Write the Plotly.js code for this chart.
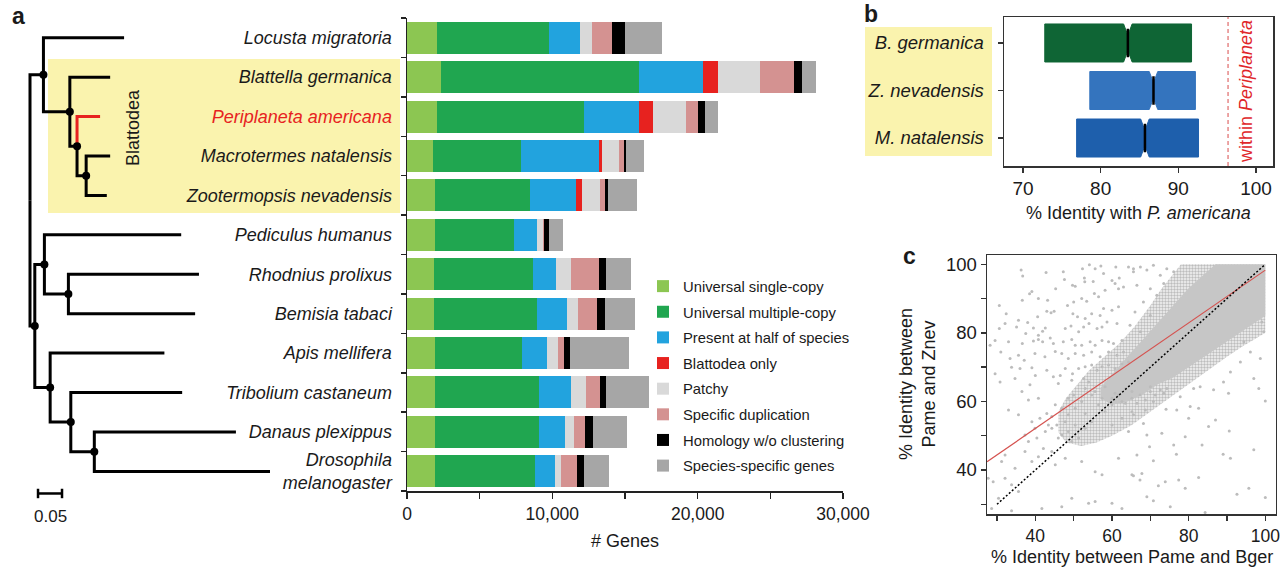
<!DOCTYPE html>
<html><head><meta charset="utf-8">
<script src="https://cdn.plot.ly/plotly-3.0.1.min.js"></script>
<style>html,body{margin:0;padding:0;background:#fff}#chart{width:1280px;height:571px}</style>
</head><body><div id="chart"></div>
<script>
const W = 1280, H = 571;
const px = v => v / W, py = v => 1 - v / H;

// ---------- Panel a: gene families per species ----------
const species = ['Locusta migratoria','Blattella germanica','Periplaneta americana','Macrotermes natalensis','Zootermopsis nevadensis','Pediculus humanus','Rhodnius prolixus','Bemisia tabaci','Apis mellifera','Tribolium castaneum','Danaus plexippus','Drosophila melanogaster'];
const focalSpecies = 'Periplaneta americana';
const categories = ['Universal single-copy','Universal multiple-copy','Present at half of species','Blattodea only','Patchy','Specific duplication','Homology w/o clustering','Species-specific genes'];
const categoryColors = ['#8cc652','#20a650','#22a3de','#e7221f','#d9d9d9','#d49291','#000000','#a6a6a6'];
const universalSingle   = [2040, 2340, 2040, 1810, 1930, 1930, 1880, 1880, 1930, 1930, 1930, 1930];
const universalMultiple = [7730,13630,10140, 6040, 6560, 5450, 6800, 7050, 5980, 7130, 7180, 6860];
const presentHalf       = [2150, 4400, 3790, 5360, 3140, 1570, 1600, 2060, 1740, 2230, 1780, 1420];
const blattodeaOnly     = [   0, 1060,  980,  210,  410,    0,    0,    0,    0,    0,    0,    0];
const patchy            = [ 830, 2840, 2230, 1170, 1220,  380,  990,  780,  740, 1030,  600,  370];
const specificDup       = [1330, 2380,  870,  320,  350,   80, 1930, 1330,  410,  980,  780, 1120];
const homologyNoClust   = [ 940,  540,  440,  160,  240,  360,  500,  550,  420,  420,  550,  460];
const speciesSpecific   = [2550,  980,  890, 1220, 1980,  990, 1720, 2040, 4080, 2910, 2320, 1760];
const seriesValues = [universalSingle, universalMultiple, presentHalf, blattodeaOnly, patchy, specificDup, homologyNoClust, speciesSpecific];
const geneTicks = [0, 10000, 20000, 30000];

// ---------- Phylogeny (branch lengths) ----------
const tipDepth  = [0.196, 0.167, 0.146, 0.167, 0.160, 0.315, 0.352, 0.344, 0.280, 0.317, 0.429, 0.500];
const nodeIds   = ['root','LB','B1','B2','B3','N2','N3','N4','N5','N6','N7'];
const nodeDepth = [0, 0.028, 0.083, 0.098, 0.117, 0.010, 0.030, 0.080, 0.042, 0.085, 0.134];
const nodeChildren = [['LB','N2'],['t0','B1'],['t1','B2'],['t2','B3'],['t3','t4'],['N3','N5'],['t5','N4'],['t6','t7'],['t8','N6'],['t9','N7'],['t10','t11']];
const scaleBarLength = 0.05;

// ---------- Panel b: identity with P. americana ----------
const boxSpecies = ['B. germanica','Z. nevadensis','M. natalensis'];
const boxQ1     = [72.8, 78.6, 76.9];
const boxMedian = [83.5, 86.8, 85.7];
const boxQ3     = [91.7, 92.2, 92.6];
const boxColors = ['#0f6535','#3474be','#1e5fac'];
const withinPeriplaneta = 96.4;
const boxTicks = [70, 80, 90, 100];

// ---------- Panel c: identity scatter ----------
const identBger = [36.3,36.7,42.8,47.3,47.6,52.3,54.1,55.6,57.1,57.8,61.0,64.3,65.6,39.1,38.5,45.3,49.7,50.4,52.9,52.8,55.1,60.0,60.8,61.9,30.6,36.6,40.8,43.2,48.4,50.0,52.1,53.4,55.4,56.5,58.2,61.7,63.0,32.4,35.6,38.0,40.6,43.0,44.1,44.9,49.8,51.0,53.0,54.7,56.9,57.8,60.0,61.7,30.6,32.1,35.1,37.5,39.5,40.8,41.9,42.6,47.8,49.3,51.3,52.6,54.0,56.1,57.4,58.7,61.3,28.2,29.5,33.0,36.6,39.5,40.8,41.9,43.9,44.7,47.3,49.5,50.4,52.1,54.3,55.6,57.4,59.1,60.4,62.6,31.0,33.4,35.6,37.1,39.9,42.5,45.2,46.9,48.6,50.4,52.6,54.7,56.9,59.1,61.3,63.0,29.5,33.8,36.0,39.1,40.0,43.0,44.7,46.5,47.8,49.7,51.3,53.0,54.7,56.1,57.4,59.1,60.8,62.6,64.3,30.8,34.7,38.6,46.0,49.5,52.6,53.9,
36.5,33.0,35.6,38.2,40.8,39.1,41.2,43.0,45.2,46.9,48.6,50.0,52.1,53.0,54.7,56.5,58.2,60.0,61.7,63.5,65.2,37.3,38.2,40.4,42.6,44.3,45.6,46.9,48.6,50.4,51.3,53.0,54.7,60.0,62.6,64.3,31.2,32.1,34.7,37.3,39.1,40.8,42.1,44.3,45.2,47.8,52.1,55.6,57.4,61.7,65.2,27.7,29.0,32.1,33.8,35.6,30.4,28.6,33.8,41.7,46.9,49.5,53.9,55.6,60.0,62.6,53.0,55.6,58.2,60.8,63.5,57.4,60.0,62.6,65.2,48.6,50.4,44.3,47.8,43.4,39.9,46.0,49.5,
65.6,67.4,69.1,70.8,72.6,74.3,66.5,70.0,73.5,76.1,68.2,71.7,66.0,70.0,64.7,67.4,93.5,96.1,98.7,99.6,97.0,90.9,94.4,89.1,99.1,
67.3,70.0,72.6,74.3,77.8,81.3,83.0,86.5,90.4,98.3,100.0,65.6,68.7,70.8,74.1,76.9,80.4,82.6,80.0,87.0,68.2,69.1,73.0,76.1,79.1,85.2,83.5,90.6,69.8,66.5,70.8,76.8,89.0,90.9,97.0,67.8,65.6,67.3,72.1,73.9,77.4,82.6,79.1,69.1,70.8,75.2,84.3,92.6,95.7,100.0,65.2,66.5,68.7,71.3,73.5,70.0];
const identZnev = [98.3,96.6,97.6,97.8,95.6,98.7,99.9,98.7,99.5,97.3,99.2,99.2,98.7,92.1,91.4,92.9,93.9,93.6,94.9,96.0,95.0,95.3,94.4,96.0,88.0,89.5,90.0,89.5,88.0,89.0,90.0,89.2,91.5,90.5,92.4,92.9,93.4,85.6,83.7,83.0,84.7,86.3,85.9,86.3,85.6,84.7,84.2,85.6,85.1,87.1,86.6,87.6,81.3,82.7,81.7,79.8,81.4,79.3,80.5,81.4,81.3,82.0,80.3,81.7,82.7,81.3,81.7,83.2,82.7,76.4,77.8,77.4,76.9,77.6,78.1,77.4,78.5,76.9,77.4,78.1,76.4,76.4,77.4,76.4,77.8,77.4,76.9,77.8,74.4,72.5,73.5,72.0,74.0,73.0,74.6,74.0,72.5,74.0,73.5,74.4,73.0,74.4,73.5,74.4,68.1,70.0,69.6,69.8,67.6,69.1,67.2,67.6,69.6,68.1,69.6,70.1,70.6,69.1,70.1,70.6,69.6,71.0,71.5,65.7,66.7,64.9,65.2,66.2,66.7,65.7,
62.9,57.5,56.1,60.4,60.9,54.1,55.1,56.5,59.0,58.0,60.9,61.9,60.0,56.5,61.9,59.0,57.0,60.9,61.9,59.5,62.9,50.2,48.3,49.3,51.2,52.2,53.1,50.2,51.2,53.1,49.3,52.2,54.1,53.1,55.1,51.2,42.5,44.4,40.5,45.4,42.5,43.9,46.3,45.4,41.5,43.4,42.5,39.5,38.6,43.4,38.6,37.6,36.6,37.6,35.7,33.7,31.8,28.8,28.1,28.8,29.3,31.8,30.3,30.8,30.3,28.8,63.8,62.9,64.3,62.4,63.8,60.9,59.0,60.0,57.0,56.1,58.0,55.6,54.1,53.1,52.2,49.3,48.3,
97.8,99.2,98.3,99.7,96.8,98.7,93.9,92.9,94.4,97.8,89.0,91.0,86.1,85.1,82.2,80.3,71.5,74.4,72.5,80.3,66.7,68.6,77.4,65.7,83.2,
61.9,62.9,63.4,63.8,61.4,63.8,64.3,63.4,62.4,63.8,60.1,56.1,57.5,60.0,57.7,57.5,58.5,58.0,55.1,54.6,53.6,50.2,50.7,47.3,49.7,52.7,47.3,51.4,46.8,44.4,42.7,44.6,44.6,43.4,45.9,39.0,38.3,37.1,35.4,36.6,37.1,37.8,34.7,32.2,31.0,29.3,27.6,32.9,34.7,32.0,60.9,59.5,60.4,61.9,62.4,64.3];
// outline of the densely populated part of the cloud (medium and high density)
const cloudX = [46,48,51,54,58,62,66,70,73,76,78,100,100,97,94,90,85,80,75,70,65,60,56,52,48,46];
const cloudY = [57,61,65,69,73,77,82,88,93,97,100,100,80,78,76,73,69,65,61,57,53,50,48,47,48,51];
const coreX  = [57,60,64,68,72,76,80,84,87,100,100,96,92,88,84,80,76,72,68,64,60,57];
const coreY  = [64,68,73,78,83,88,93,97,100,100,85,82,79,76,73,70,67,65,62,60,59,61];
const fitX = [27.4, 100];
const fitY = [42.4, 98.3];
const identityLine = [30, 100];
const scatterTicks = [40, 60, 80, 100];
const scatterMinor = [30, 50, 70, 90];

// ---------- build traces ----------
const FONT = 'Liberation Sans, Arial, Helvetica, sans-serif';
const INK = '#1a1a1a';
const rows = species.map((_, i) => i);
const traces = [];

categories.forEach((name, k) => {
  traces.push({
    type: 'bar', orientation: 'h', name: name, legendgroup: name,
    x: seriesValues[k], y: rows, xaxis: 'x', yaxis: 'y',
    marker: { color: categoryColors[k], line: { width: 0 } },
    hoverinfo: 'skip'
  });
});

// tree
function yOf(id) {
  if (id[0] === 't') return +id.slice(1);
  const ch = nodeChildren[nodeIds.indexOf(id)];
  return (yOf(ch[0]) + yOf(ch[1])) / 2;
}
function dOf(id) {
  return id[0] === 't' ? tipDepth[+id.slice(1)] : nodeDepth[nodeIds.indexOf(id)];
}
const focalTip = 't' + species.indexOf(focalSpecies);
const bX = [], bY = [], rX = [], rY = [];
nodeIds.forEach((id, k) => {
  const nd = nodeDepth[k], ny = yOf(id);
  nodeChildren[k].forEach(c => {
    const cy = yOf(c), cd = dOf(c);
    const X = c === focalTip ? rX : bX, Y = c === focalTip ? rY : bY;
    X.push(nd, nd, cd, null); Y.push(ny, cy, cy, null);
  });
});
traces.push({ type: 'scatter', mode: 'lines', x: bX, y: bY, xaxis: 'x4', yaxis: 'y4',
  line: { color: '#000', width: 3 }, showlegend: false, hoverinfo: 'skip' });
traces.push({ type: 'scatter', mode: 'lines', x: rX, y: rY, xaxis: 'x4', yaxis: 'y4',
  line: { color: '#e7221f', width: 3 }, showlegend: false, hoverinfo: 'skip' });
const innerIds = nodeIds.filter(id => id !== 'root');
traces.push({ type: 'scatter', mode: 'markers', x: innerIds.map(dOf), y: innerIds.map(yOf),
  xaxis: 'x4', yaxis: 'y4', marker: { color: '#000', size: 8 }, showlegend: false, hoverinfo: 'skip' });
// scale bar
const sb0 = 0.0167, sbRow = 11.56, cap = 0.12;
traces.push({ type: 'scatter', mode: 'lines', xaxis: 'x4', yaxis: 'y4',
  x: [sb0, sb0 + scaleBarLength, null, sb0, sb0, null, sb0 + scaleBarLength, sb0 + scaleBarLength],
  y: [sbRow, sbRow, null, sbRow - cap, sbRow + cap, null, sbRow - cap, sbRow + cap],
  line: { color: '#000', width: 2.5 }, showlegend: false, hoverinfo: 'skip' });

// panel b boxes
boxSpecies.forEach((s, i) => {
  traces.push({
    type: 'box', orientation: 'h', y: [i], q1: [boxQ1[i]], median: [boxMedian[i]], q3: [boxQ3[i]],
    lowerfence: [boxQ1[i]], upperfence: [boxQ3[i]], notched: true, notchspan: [0.55], notchwidth: 0.3,
    width: 0.8, fillcolor: boxColors[i], line: { color: boxColors[i], width: 1 }, whiskerwidth: 0,
    boxpoints: false, xaxis: 'x2', yaxis: 'y2', showlegend: false, hoverinfo: 'skip'
  });
});
const mX = [], mY = [];
boxSpecies.forEach((s, i) => { mX.push(boxMedian[i], boxMedian[i], null); mY.push(i - 0.3, i + 0.3, null); });
traces.push({ type: 'scatter', mode: 'lines', x: mX, y: mY, xaxis: 'x2', yaxis: 'y2',
  line: { color: '#000', width: 2.5 }, showlegend: false, hoverinfo: 'skip' });

// panel c
traces.push({ type: 'scatter', mode: 'lines', x: cloudX, y: cloudY, fill: 'toself', xaxis: 'x3', yaxis: 'y3',
  line: { width: 0 }, fillcolor: '#dcdcdc',
  fillpattern: { shape: '.', fgcolor: '#bdbdbd', bgcolor: '#f4f4f4', size: 3, solidity: 0.5 },
  showlegend: false, hoverinfo: 'skip' });
traces.push({ type: 'scatter', mode: 'lines', x: coreX, y: coreY, fill: 'toself', xaxis: 'x3', yaxis: 'y3',
  line: { width: 0 }, fillcolor: '#c6c6c6', showlegend: false, hoverinfo: 'skip' });
traces.push({ type: 'scatter', mode: 'markers', x: identBger, y: identZnev, xaxis: 'x3', yaxis: 'y3',
  marker: { color: '#bcbcbc', size: 3 }, showlegend: false, hoverinfo: 'skip' });
traces.push({ type: 'scatter', mode: 'lines', x: fitX, y: fitY, xaxis: 'x3', yaxis: 'y3',
  line: { color: '#d5524f', width: 1.2 }, showlegend: false, hoverinfo: 'skip' });
traces.push({ type: 'scatter', mode: 'lines', x: identityLine, y: identityLine, xaxis: 'x3', yaxis: 'y3',
  line: { color: '#000', width: 1.5, dash: '2px,2px' }, showlegend: false, hoverinfo: 'skip' });

// ---------- layout ----------
const ytext = species.map(s => {
  let t = s === 'Drosophila melanogaster' ? '<i>Drosophila</i><br><i>melanogaster</i>' : '<i>' + s + '</i>';
  if (s === focalSpecies) t = '<span style="color:#e7221f">' + t + '</span>';
  return t;
});
const boundaries = rows.map(r => r - 0.5).concat([rows.length - 0.5]);
const axLine = { showline: true, linecolor: '#222', linewidth: 1.5, showgrid: false, zeroline: false };

const ann = (text, x, y, size, extra) => Object.assign({
  text: text, x: px(x), y: py(y), xref: 'paper', yref: 'paper', showarrow: false,
  xanchor: 'center', yanchor: 'middle', font: { family: FONT, size: size, color: INK }
}, extra || {});

const layout = {
  width: W, height: H, margin: { l: 0, r: 0, t: 0, b: 0 },
  paper_bgcolor: '#fff', plot_bgcolor: 'rgba(0,0,0,0)',
  font: { family: FONT, color: INK },
  barmode: 'stack', bargap: 0.19, showlegend: true,
  legend: { x: px(643), y: py(270), xanchor: 'left', yanchor: 'top', traceorder: 'grouped',
    tracegroupgap: 3.4, font: { family: FONT, size: 14.8, color: INK }, bgcolor: 'rgba(0,0,0,0)' },
  xaxis: Object.assign({}, axLine, { domain: [px(407), px(843)], range: [0, 30000], anchor: 'y',
    tickvals: geneTicks, tickformat: ',d', ticks: 'outside', ticklen: 6, tickwidth: 1.5, tickcolor: '#222',
    minor: { dtick: 5000, tick0: 0, ticks: 'outside', ticklen: 6, tickwidth: 1.5, tickcolor: '#222', showgrid: false },
    tickfont: { size: 17.5 } }),
  yaxis: Object.assign({}, axLine, { domain: [py(491), py(18)], range: [11.5, -0.5], anchor: 'x',
    tickvals: rows, ticktext: ytext, ticks: '', ticklabelstandoff: 10,
    minor: { tickvals: boundaries, ticks: 'outside', ticklen: 5, tickwidth: 1.5, tickcolor: '#222', showgrid: false },
    tickfont: { size: 18 } }),
  xaxis4: { domain: [0, px(400)], range: [-30 / 480, 370 / 480], anchor: 'y4', visible: false },
  yaxis4: { domain: [py(540), py(18)], range: [12.74, -0.5], anchor: 'x4', visible: false },
  xaxis2: Object.assign({}, axLine, { domain: [px(1004), px(1273)], range: [67.55, 102.19], anchor: 'y2',
    mirror: true, linecolor: '#333', tickvals: boxTicks, ticks: 'outside', ticklen: 5, tickwidth: 1.5, tickcolor: '#333',
    ticklabeloverflow: 'allow', tickfont: { size: 19 } }),
  yaxis2: Object.assign({}, axLine, { domain: [py(166), py(17)], range: [2.589, -0.547], anchor: 'x2',
    mirror: true, linecolor: '#333', tickvals: [0, 1, 2], ticktext: boxSpecies.map(s => '<i>' + s + '</i>'),
    ticks: 'outside', ticklen: 5, tickwidth: 1.5, tickcolor: '#333', ticklabelstandoff: 10, tickfont: { size: 18.5 } }),
  xaxis3: Object.assign({}, axLine, { domain: [px(987), px(1275.7)], range: [27.39, 102.71], anchor: 'y3',
    mirror: true, linecolor: '#333', tickvals: scatterTicks, ticks: 'outside', ticklen: 5, tickwidth: 1.5, tickcolor: '#333',
    minor: { tickvals: scatterMinor, ticks: 'outside', ticklen: 5, tickwidth: 1.5, tickcolor: '#333', showgrid: false },
    ticklabeloverflow: 'allow', tickfont: { size: 17.5 } }),
  yaxis3: Object.assign({}, axLine, { domain: [py(514), py(255)], range: [27.17, 102.71], anchor: 'x3',
    mirror: true, linecolor: '#333', tickvals: scatterTicks, ticks: 'outside', ticklen: 5, tickwidth: 1.5, tickcolor: '#333',
    minor: { tickvals: scatterMinor, ticks: 'outside', ticklen: 5, tickwidth: 1.5, tickcolor: '#333', showgrid: false },
    tickfont: { size: 18.5 } }),
  shapes: [
    { type: 'rect', xref: 'paper', yref: 'paper', x0: px(48), x1: px(400), y0: py(213), y1: py(59),
      fillcolor: '#faf3ae', line: { width: 0 }, layer: 'below' },
    { type: 'rect', xref: 'paper', yref: 'paper', x0: px(865), x1: px(992), y0: py(156), y1: py(27),
      fillcolor: '#faf3ae', line: { width: 0 }, layer: 'below' },
    { type: 'line', xref: 'x2', yref: 'y2 domain', x0: withinPeriplaneta, x1: withinPeriplaneta, y0: 0, y1: 1,
      line: { color: '#e06a6a', width: 1.2, dash: '4px,3px' } }
  ],
  annotations: [
    ann('<b>a</b>', 18, 16, 23),
    ann('<b>b</b>', 871, 14, 23),
    ann('<b>c</b>', 909, 256, 23),
    ann('Blattodea', 133, 128, 18, { textangle: -90 }),
    ann('0.05', 50, 516, 17),
    ann('# Genes', 625, 541, 18),
    ann('% Identity with <i>P. americana</i>', 1138, 213, 18),
    ann('within <i>Periplaneta</i>', 1246, 92, 18, { textangle: -90, font: { family: FONT, size: 18, color: '#e0262a' } }),
    ann('% Identity between Pame and Bger', 1132, 557, 18),
    ann('% Identity between<br>Pame and Znev', 917, 384, 18, { textangle: -90 })
  ]
};

Plotly.newPlot('chart', traces, layout, { displayModeBar: false, staticPlot: true });
</script>
</body></html>
